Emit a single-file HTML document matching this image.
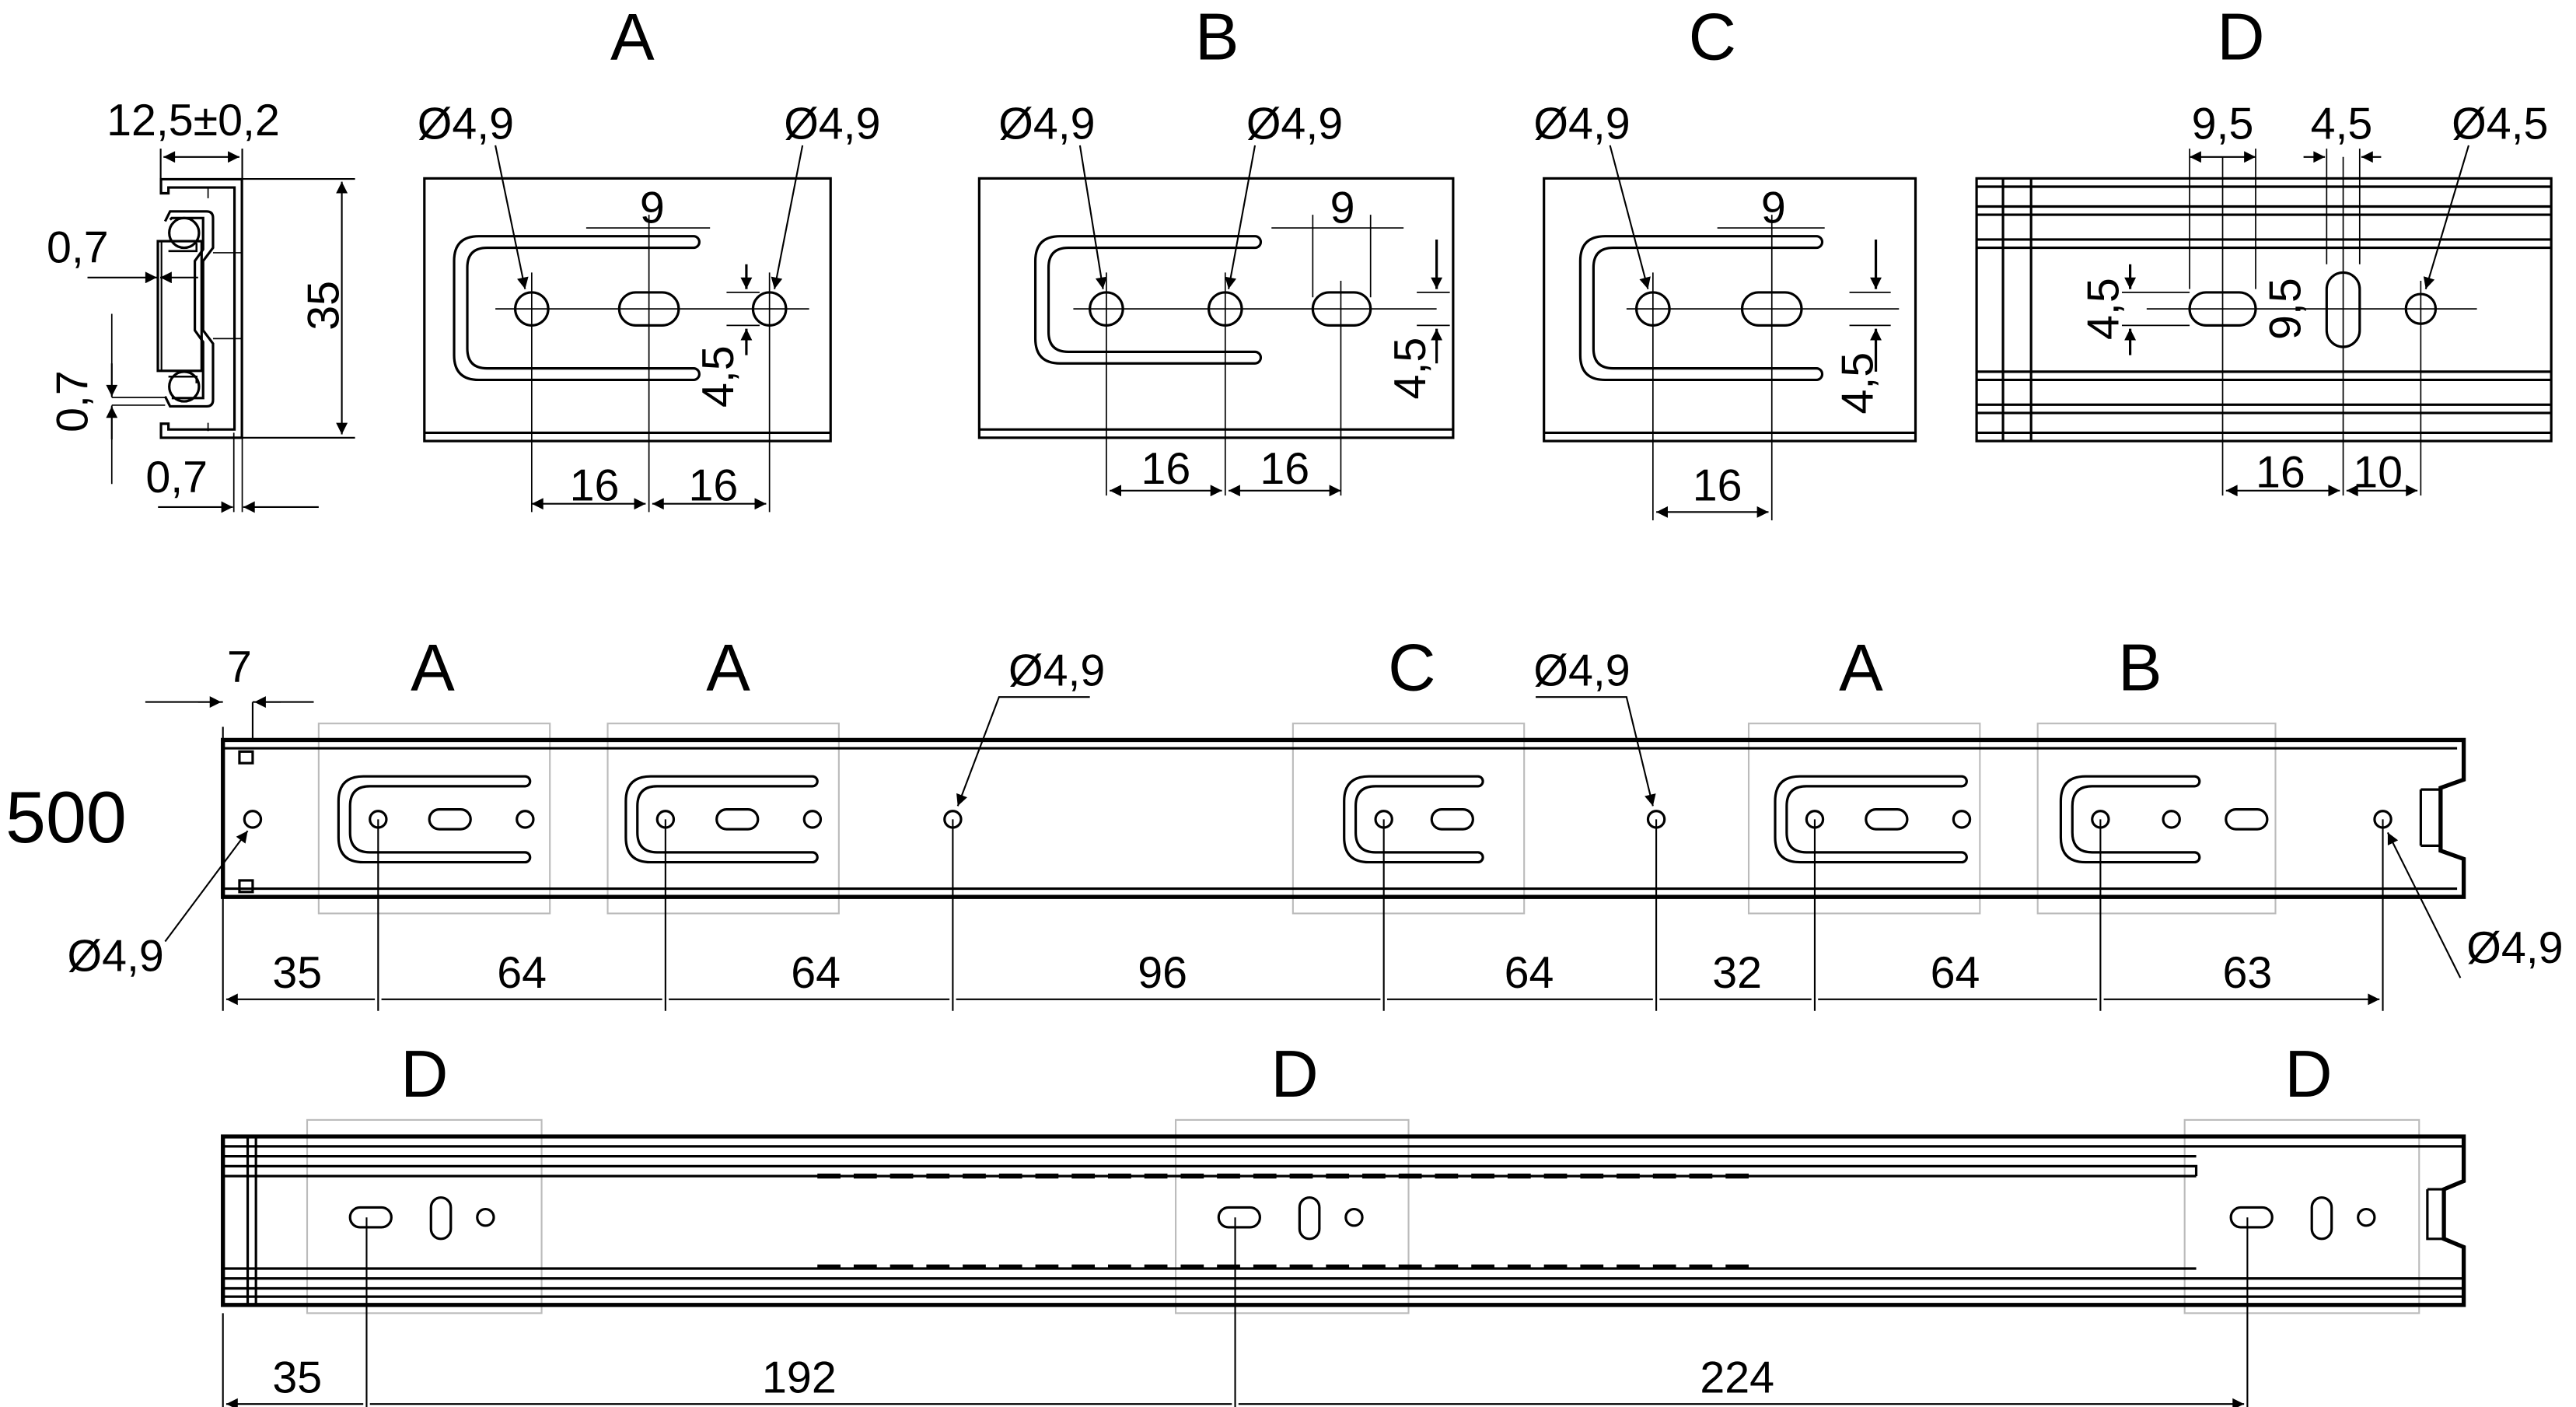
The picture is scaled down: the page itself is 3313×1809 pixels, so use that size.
<!DOCTYPE html>
<html><head><meta charset="utf-8"><style>html,body{margin:0;padding:0;background:#fff}svg{display:block}</style></head>
<body>
<svg width="3313" height="1809" viewBox="0 0 1560 851.8" xmlns="http://www.w3.org/2000/svg" font-family="Liberation Sans, sans-serif" fill="none" stroke="#000">
<defs>
<marker id="a" viewBox="0 0 10 10" refX="10" refY="5" markerWidth="14" markerHeight="7" markerUnits="userSpaceOnUse" orient="auto-start-reverse"><path d="M0,0L10,5L0,10z" fill="#000" stroke="none"/></marker>
</defs>
<g font-size="27" fill="#000" stroke="none" text-anchor="middle">
<text x="383" y="36" font-size="40">A</text><text x="737" y="36" font-size="40">B</text><text x="1037" y="36" font-size="40">C</text><text x="1357" y="36" font-size="40">D</text>
<text x="117" y="82">12,5±0,2</text>
<text x="47" y="159">0,7</text>
<text x="107" y="298">0,7</text>
<text x="282" y="84">Ø4,9</text><text x="504" y="84">Ø4,9</text>
<text x="395" y="135">9</text><text x="360" y="303">16</text><text x="432" y="303">16</text>
<text x="634" y="84">Ø4,9</text><text x="784" y="84">Ø4,9</text>
<text x="813" y="135">9</text><text x="706" y="293">16</text><text x="778" y="293">16</text>
<text x="958" y="84">Ø4,9</text><text x="1074" y="135">9</text><text x="1040" y="303">16</text>
<text x="1346" y="84">9,5</text><text x="1418" y="84">4,5</text><text x="1514" y="84">Ø4,5</text>
<text x="1381" y="295">16</text><text x="1440" y="295">10</text>
<text x="262" y="418" font-size="40">A</text><text x="441" y="418" font-size="40">A</text><text x="855" y="418" font-size="40">C</text><text x="1127" y="418" font-size="40">A</text><text x="1296" y="418" font-size="40">B</text>
<text x="145" y="413">7</text><text x="640" y="415">Ø4,9</text><text x="958" y="415">Ø4,9</text>
<text x="40" y="510" font-size="44">500</text>
<text x="70" y="588">Ø4,9</text><text x="1523" y="583">Ø4,9</text>
<text x="180" y="598">35</text><text x="316" y="598">64</text><text x="494" y="598">64</text><text x="704" y="598">96</text><text x="926" y="598">64</text><text x="1052" y="598">32</text><text x="1184" y="598">64</text><text x="1361" y="598">63</text>
<text x="257" y="664" font-size="40">D</text><text x="784" y="664" font-size="40">D</text><text x="1398" y="664" font-size="40">D</text>
<text x="180" y="843">35</text><text x="484" y="843">192</text><text x="1052" y="843">224</text>
<text transform="translate(205,185) rotate(-90)">35</text>
<text transform="translate(53,243) rotate(-90)">0,7</text>
<text transform="translate(444,228) rotate(-90)">4,5</text>
<text transform="translate(863,223) rotate(-90)">4,5</text>
<text transform="translate(1134,232) rotate(-90)">4,5</text>
<text transform="translate(1283,187) rotate(-90)">4,5</text>
<text transform="translate(1393,187) rotate(-90)">9,5</text>
</g>
<g stroke-width="1.5">
<!-- cross-section -->
<path d="M102,117H97.5V108.5H146.5V265H97.5V256.5H102V260H142V113.5H102Z"/>
<path d="M100,134L103,128H125Q129,128 129,132V150L123,158V200L129,208V242Q129,246 125,246H103L100,240 M103,133L104,132H123V151L118,158V200L123,207V241H104"/>
<circle cx="111.5" cy="141" r="9"/><circle cx="111.5" cy="234" r="9"/>
<path d="M102,152H119V147 M102,228H119V232" stroke-width="1.2"/>
<rect x="95.6" y="146" width="26.5" height="78.5"/><path d="M97.8,146V224.5" stroke-width="1"/>
<path d="M129,153H146 M129,205H146 M126,120V114 M126,256V261" stroke-width="0.8"/>
<path d="M97.3,90V108 M146.7,90V108" stroke-width="1"/>
<path d="M99,95H145" marker-start="url(#a)" marker-end="url(#a)" stroke-width="1"/>
<path d="M147,108.3H215 M147,265H215" stroke-width="1"/>
<path d="M207,110V263" marker-start="url(#a)" marker-end="url(#a)" stroke-width="1"/>
<path d="M53,168H95 M67.7,190V240.5 M67.7,245.5V293 M67.7,240.6H100 M67.7,245.3H100 M141.6,262V310 M146.7,265V310" stroke-width="0.8"/>
<path d="M53,168H95" marker-end="url(#a)" stroke-width="1"/><path d="M120,168H97" marker-end="url(#a)" stroke-width="1"/>
<path d="M67.7,220V240" marker-end="url(#a)" stroke-width="1"/><path d="M67.7,266V246" marker-end="url(#a)" stroke-width="1"/>
<path d="M95.7,307H141" marker-end="url(#a)" stroke-width="1"/><path d="M193,307H147.3" marker-end="url(#a)" stroke-width="1"/>
<!-- Detail A -->
<rect x="257" y="108" width="246" height="159"/><path d="M257,262H503"/>
<path d="M420,143H290Q275,143 275,158V215Q275,230 290,230H420 M420,150H295Q283,150 283,162V211Q283,223 295,223H420 M420,143A3.5,3.5 0 0 1 420,150 M420,223A3.5,3.5 0 0 1 420,230"/>
<circle cx="322" cy="187" r="10"/><rect x="375" y="177" width="36" height="20" rx="10"/><circle cx="466" cy="187" r="10"/>
<path d="M300,187H490 M322,165V310 M393,130V310 M466,165V310 M355,138H430 M440,177H460 M440,197H460" stroke-width="0.8"/>
<path d="M322,305H391" marker-start="url(#a)" marker-end="url(#a)" stroke-width="1"/><path d="M395,305H464" marker-start="url(#a)" marker-end="url(#a)" stroke-width="1"/>
<path d="M452,160V175" marker-end="url(#a)"/><path d="M452,215V199" marker-end="url(#a)"/>
<path d="M300,88L318,175" marker-end="url(#a)" stroke-width="1"/><path d="M486,88L469,175" marker-end="url(#a)" stroke-width="1"/>
<!-- Detail B -->
<rect x="593" y="108" width="287" height="157"/><path d="M593,260H880"/>
<path d="M760,143H642Q627,143 627,158V205Q627,220 642,220H760 M760,150H647Q635,150 635,162V201Q635,213 647,213H760 M760,143A3.5,3.5 0 0 1 760,150 M760,213A3.5,3.5 0 0 1 760,220"/>
<circle cx="670" cy="187" r="10"/><circle cx="742" cy="187" r="10"/><rect x="795" y="177" width="35" height="20" rx="10"/>
<path d="M650,187H870 M670,165V300 M742,165V300 M795,130V180 M830,130V180 M858,177H878 M858,197H878" stroke-width="0.8"/>
<path d="M672,297H740" marker-start="url(#a)" marker-end="url(#a)" stroke-width="1"/><path d="M744,297H812" marker-start="url(#a)" marker-end="url(#a)" stroke-width="1"/><path d="M812,170V300" stroke-width="0.8"/>
<path d="M770,138H850" stroke-width="0.8"/>
<path d="M870,145V175" marker-end="url(#a)"/><path d="M870,220V199" marker-end="url(#a)"/>
<path d="M654,88L668,175" marker-end="url(#a)" stroke-width="1"/><path d="M760,88L744,175" marker-end="url(#a)" stroke-width="1"/>
<!-- Detail C -->
<rect x="935" y="108" width="225" height="159"/><path d="M935,262H1160"/>
<path d="M1100,143H972Q957,143 957,158V215Q957,230 972,230H1100 M1100,150H977Q965,150 965,162V211Q965,223 977,223H1100 M1100,143A3.5,3.5 0 0 1 1100,150 M1100,223A3.5,3.5 0 0 1 1100,230"/>
<circle cx="1001" cy="187" r="10"/><rect x="1055" y="177" width="36" height="20" rx="10"/>
<path d="M985,187H1150 M1001,165V315 M1073,130V315 M1040,138H1105 M1120,177H1145 M1120,197H1145" stroke-width="0.8"/>
<path d="M1003,310H1071" marker-start="url(#a)" marker-end="url(#a)" stroke-width="1"/>
<path d="M1136,145V175" marker-end="url(#a)"/><path d="M1136,225V199" marker-end="url(#a)"/>
<path d="M975,88L998,175" marker-end="url(#a)" stroke-width="1"/>
<!-- Detail D -->
<rect x="1197" y="108" width="348" height="159"/>
<path d="M1197,113H1545 M1197,125H1545 M1197,130H1545 M1197,145H1545 M1197,150H1545 M1197,225H1545 M1197,230H1545 M1197,245H1545 M1197,250H1545 M1197,262H1545 M1213,108V267 M1230,108V267"/>
<rect x="1326" y="177" width="40" height="20" rx="10"/><rect x="1409" y="165" width="20" height="45" rx="10"/><circle cx="1466" cy="187" r="9"/>
<path d="M1300,187H1500 M1346,95V300 M1419,95V300 M1466,170V300 M1326,90V175 M1366,90V175 M1409,90V160 M1429,90V160 M1285,177H1326 M1285,197H1326" stroke-width="0.8"/>
<path d="M1348,297H1417" marker-start="url(#a)" marker-end="url(#a)" stroke-width="1"/><path d="M1421,297H1464" marker-start="url(#a)" marker-end="url(#a)" stroke-width="1"/>
<path d="M1290,160V175" marker-end="url(#a)"/><path d="M1290,215V199" marker-end="url(#a)"/>
<path d="M1326,95H1366" marker-start="url(#a)" marker-end="url(#a)" stroke-width="1"/>
<path d="M1395,95H1408" marker-end="url(#a)" stroke-width="1"/><path d="M1442,95H1430" marker-end="url(#a)" stroke-width="1"/>
<path d="M1495,88L1469,175" marker-end="url(#a)" stroke-width="1"/>
<!-- middle rail -->
<g stroke="#bbb" stroke-width="1"><rect x="193" y="438" width="140" height="115"/><rect x="368" y="438" width="140" height="115"/><rect x="783" y="438" width="140" height="115"/><rect x="1059" y="438" width="140" height="115"/><rect x="1234" y="438" width="144" height="115"/></g>
<path d="M135,448H1492V472L1478,477V515L1492,520V543H135Z" stroke-width="2.5"/><path d="M135,453H1488M135,538H1488M1466,478V512M1466,478H1478M1466,512H1478"/>
<rect x="145" y="455" width="8" height="7"/><rect x="145" y="533" width="8" height="7"/>
<path d="M318,470H220Q205,470 205,485V507Q205,522 220,522H318 M318,476H224Q212,476 212,488V504Q212,516 224,516H318 M318,470A3,3 0 0 1 318,476 M318,516A3,3 0 0 1 318,522"/>
<circle cx="229" cy="496" r="5"/><rect x="260" y="490" width="25" height="12" rx="6"/><circle cx="318" cy="496" r="5"/>
<g transform="translate(174,0)"><path d="M318,470H220Q205,470 205,485V507Q205,522 220,522H318 M318,476H224Q212,476 212,488V504Q212,516 224,516H318 M318,470A3,3 0 0 1 318,476 M318,516A3,3 0 0 1 318,522"/><circle cx="229" cy="496" r="5"/><rect x="260" y="490" width="25" height="12" rx="6"/><circle cx="318" cy="496" r="5"/></g>
<g transform="translate(870,0)"><path d="M318,470H220Q205,470 205,485V507Q205,522 220,522H318 M318,476H224Q212,476 212,488V504Q212,516 224,516H318 M318,470A3,3 0 0 1 318,476 M318,516A3,3 0 0 1 318,522"/><circle cx="229" cy="496" r="5"/><rect x="260" y="490" width="25" height="12" rx="6"/><circle cx="318" cy="496" r="5"/></g>
<g transform="translate(609,0)"><path d="M286,470H220Q205,470 205,485V507Q205,522 220,522H286 M286,476H224Q212,476 212,488V504Q212,516 224,516H286 M286,470A3,3 0 0 1 286,476 M286,516A3,3 0 0 1 286,522"/><circle cx="229" cy="496" r="5"/><rect x="258" y="490" width="25" height="12" rx="6"/></g>
<g transform="translate(1043,0)"><path d="M286,470H220Q205,470 205,485V507Q205,522 220,522H286 M286,476H224Q212,476 212,488V504Q212,516 224,516H286 M286,470A3,3 0 0 1 286,476 M286,516A3,3 0 0 1 286,522"/><circle cx="229" cy="496" r="5"/><circle cx="272" cy="496" r="5"/><rect x="305" y="490" width="25" height="12" rx="6"/></g>
<circle cx="153" cy="496" r="5"/><circle cx="577" cy="496" r="5"/><circle cx="1003" cy="496" r="5"/><circle cx="1443" cy="496" r="5"/>
<g stroke-width="1"><path d="M135,440V612 M229,496V612 M403,496V612 M577,496V612 M838,496V612 M1003,496V612 M1099,496V612 M1272,496V612 M1443,496V612 M88,425H135 M153,425H190 M153,425V448"/>
<path d="M137,605H227M231,605H401M405,605H575M579,605H836M840,605H1001M1005,605H1097M1101,605H1270M1274,605H1441" marker-start="url(#a)" marker-end="url(#a)"/>
<path d="M120,425H134" marker-end="url(#a)"/><path d="M170,425H154" marker-end="url(#a)"/>
<path d="M660,422H605L580,488" marker-end="url(#a)"/><path d="M930,422H985L1001,488" marker-end="url(#a)"/>
<path d="M100,570L150,503" marker-end="url(#a)"/><path d="M1490,592L1446,504" marker-end="url(#a)"/></g>
<!-- bottom rail -->
<g stroke="#bbb" stroke-width="1"><rect x="186" y="678" width="142" height="117"/><rect x="712" y="678" width="141" height="117"/><rect x="1323" y="678" width="142" height="117"/></g>
<path d="M135,688H1492V715L1480,720V750L1492,755V790H135Z" stroke-width="2.5"/>
<path d="M135,694H1492M135,700H1330M135,712H1330M135,706H1330V712M135,768H1330M135,774H1492M135,780H1492M135,785H1492M150,688V790M155,688V790M1470,720V750H1480M1470,720H1480"/>
<path d="M495,712H1060M495,767H1060" stroke-width="3" stroke-dasharray="14,8"/>
<g id="d"><rect x="212" y="731" width="25" height="12" rx="6"/><rect x="261" y="725" width="12" height="25" rx="6"/><circle cx="294" cy="737" r="5"/></g>
<use href="#d" transform="translate(526,0)"/><use href="#d" transform="translate(1139,0)"/>
<g stroke-width="1"><path d="M135,795V858 M222,737V858 M748,737V858 M1361,737V858"/>
<path d="M137,850H220M224,850H746M750,850H1359" marker-start="url(#a)" marker-end="url(#a)"/></g>
</g>
</svg>
</body></html>
